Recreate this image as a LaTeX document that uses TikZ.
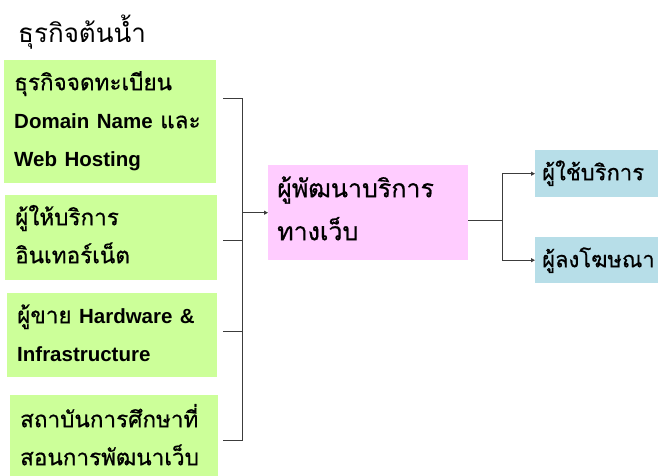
\documentclass[tikz,border=0pt]{standalone}
\usepackage{fontspec}
\setmainfont[Script=Thai]{Loma}
\newfontfamily\thai[Script=Thai]{Loma}
\newfontfamily\thaimed[Script=Thai,FakeBold=0.7]{Loma}
\newfontfamily\lat{Liberation Sans}
\newcommand\en[1]{{\lat\bfseries\fontsize{20.5}{38}\selectfont #1}}
\usetikzlibrary{arrows.meta}
\definecolor{upgreen}{RGB}{204,255,153}
\definecolor{devpink}{RGB}{255,204,255}
\definecolor{usrblue}{RGB}{183,222,232}
\definecolor{linegray}{RGB}{60,60,60}
\tikzset{
  boxbase/.style={anchor=north west, inner ysep=0pt, align=left},
  gbox/.style={boxbase, fill=upgreen, inner xsep=10pt,
    font=\thaimed\fontsize{22.5}{38}\selectfont},
  pbox/.style={boxbase, fill=devpink, inner xsep=9pt,
    font=\thaimed\fontsize{25}{43}\selectfont},
  bbox/.style={boxbase, fill=usrblue, inner xsep=7pt,
    font=\thaimed\fontsize{22}{26}\selectfont},
  conn/.style={draw=linegray, line width=0.9pt},
  arr/.style={conn, -{Triangle[length=4pt,width=4pt]}}
}
\begin{document}
\begin{tikzpicture}[x=1pt,y=-1pt]
\useasboundingbox (0,0) rectangle (658,475);
\node[anchor=base west, inner sep=0pt, font=\thai\fontsize{26}{30}\selectfont] (title) at (18,42) {ธุรกิจต้นน้ำ};

\node[gbox, text width=192pt, text height=30pt, text depth=93pt] (b1) at (4,60)
  {ธุรกิจจดทะเบียน\\ \en{Domain Name} และ\\ \en{Web Hosting}};
\node[gbox, text width=192pt, text height=30pt, text depth=55pt] (b2) at (5,195)
  {ผู้ให้บริการ\\ อินเทอร์เน็ต};
\node[gbox, text width=190pt, text height=30pt, text depth=54pt] (b3) at (7,293)
  {ผู้ขาย \en{Hardware \&}\\ \en{Infrastructure}};
\node[gbox, text width=188pt, text height=32pt, text depth=60pt] (b4) at (10,395)
  {สถาบันการศึกษาที่\\ สอนการพัฒนาเว็บ};

\node[pbox, text width=182pt, text height=32pt, text depth=63pt] (dev) at (268,165)
  {ผู้พัฒนาบริการ\\ ทางเว็บ};

\node[bbox, text width=140pt, text height=30pt, text depth=17pt] (u1) at (535,150) {ผู้ใช้บริการ};
\node[bbox, text width=140pt, text height=30pt, text depth=16pt] (u2) at (535,237) {ผู้ลงโฆษณา};

% bracket on the left
\coordinate (s1) at (223,98);
\coordinate (s2) at (223,240);
\coordinate (s3) at (223,331);
\coordinate (s4) at (223,440);
\coordinate (v1) at (242,98);
\coordinate (v2) at (242,240);
\coordinate (v3) at (242,331);
\coordinate (v4) at (242,440);
\draw[conn] (s1) -- (v1) -- (v4) -- (s4);
\draw[conn] (s2) -- (v2);
\draw[conn] (s3) -- (v3);
\draw[arr] (v1 |- dev.west) -- (dev.west);

% fork on the right
\coordinate (d1) at (468,220);
\coordinate (f0) at (502,220);
\draw[conn] (d1) -- (f0);
\draw[conn] (f0 |- u1.west) -- (f0 |- u2.west);
\draw[arr] (f0 |- u1.west) -- (u1.west);
\draw[arr] (f0 |- u2.west) -- (u2.west);
\end{tikzpicture}
\end{document}
